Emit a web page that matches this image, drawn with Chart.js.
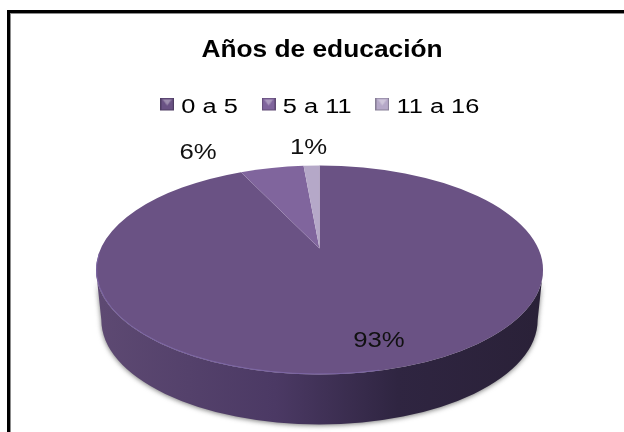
<!DOCTYPE html>
<html><head><meta charset="utf-8">
<style>html,body{margin:0;padding:0;background:#fff}canvas{display:block}</style>
<script src="https://cdn.jsdelivr.net/npm/chart.js@4"></script>
</head><body>
<canvas id="c" width="624" height="432"></canvas>
<script>
const categories = ['0 a 5', '5 a 11', '11 a 16'];
const shares = [93, 5.6, 1.4];
const sliceColors = ['#6a5284', '#80659d', '#b5a8c8'];
const chartTitle = 'Años de educación';

function legendMarker(color) {
  const m = document.createElement('canvas');
  m.width = 11; m.height = 20;
  const g = m.getContext('2d');
  g.fillStyle = color; g.fillRect(0, 0, 11, 13);
  g.fillStyle = 'rgba(255,255,255,0.35)';
  g.beginPath(); g.moveTo(2, 2); g.lineTo(9, 2); g.lineTo(5.5, 8); g.closePath(); g.fill();
  g.strokeStyle = 'rgba(0,0,0,0.25)'; g.strokeRect(0.5, 0.5, 10, 12);
  return m;
}

const framePlugin = {
  id: 'frame',
  beforeDraw(chart) {
    const c = chart.ctx, W = chart.width, H = chart.height;
    c.save();
    c.fillStyle = '#000'; c.fillRect(7, 10, W - 7, 3); c.fillRect(7, 10, 3, H - 10);
    c.fillStyle = '#8c8c8c'; c.fillRect(10, 13, W - 10, 1); c.fillRect(10, 13, 1, H - 13);
    c.restore();
  }
};

// the reference text is stretched sideways, so title and legend are drawn under a horizontal scale
const stretchPlugin = {
  id: 'stretchText',
  beforeDraw(chart) {
    if (chart.$wrapped) return;
    chart.$wrapped = true;
    const wrap = (box, target, s) => {
      const d = box.draw.bind(box);
      box.draw = (...a) => {
        const c = chart.ctx, mid = box.left + box.width / 2;
        c.save();
        c.translate(target, 0); c.scale(s, 1); c.translate(-mid, 0);
        d(...a);
        c.restore();
      };
    };
    wrap(chart.titleBlock, 322, 1.096);
    wrap(chart.legend, 322.5, 1.27);
  }
};

const tiltedPie = {
  id: 'tiltedPie',
  beforeDatasetDraw(chart, args, o) {
    const c = chart.ctx, arcs = args.meta.data;
    const cx = arcs[0].x, cy = arcs[0].y, ry = arcs[0].outerRadius;
    const rx = ry * o.stretch, k = o.apexShift, d = o.depth, rx2 = rx * o.baseShrink;
    const project = a => {
      const t = a + Math.PI / 2, x = Math.sin(t), y = -Math.cos(t);
      const q = 1 + k * y;
      return Math.atan2((y + k) / q, x * Math.sqrt(1 - k * k) / q);
    };
    c.save();
    const g = c.createLinearGradient(cx - rx2, 0, cx + rx2, 0);
    g.addColorStop(0, '#5d4972'); g.addColorStop(0.4, '#4b3964');
    g.addColorStop(0.68, '#2f2541'); g.addColorStop(1, '#2a2138');
    c.save();
    c.shadowColor = 'rgba(90,90,90,0.8)'; c.shadowBlur = 5; c.shadowOffsetY = 1;
    c.beginPath();
    c.moveTo(cx - rx, cy);
    c.lineTo(cx - rx2, cy + d);
    c.ellipse(cx, cy + d, rx2, ry, 0, Math.PI, 0, true);
    c.lineTo(cx + rx, cy);
    c.ellipse(cx, cy, rx, ry, 0, 0, Math.PI, false);
    c.closePath();
    c.fillStyle = g; c.fill();
    c.restore();
    arcs.forEach((arc, i) => {
      c.beginPath();
      c.moveTo(cx, cy + k * ry);
      c.ellipse(cx, cy, rx, ry, 0, project(arc.startAngle), project(arc.endAngle), false);
      c.closePath();
      c.fillStyle = sliceColors[i];
      c.fill();
    });
    c.beginPath();
    c.ellipse(cx, cy, rx - 0.5, ry - 0.5, 0, 1.3, 3.3, false);
    c.strokeStyle = '#7c66a4'; c.lineWidth = 1; c.stroke();
    c.restore();
    return false;
  },
  afterDatasetsDraw(chart, args, o) {
    const c = chart.ctx, arc = chart.getDatasetMeta(0).data[0];
    shares.forEach((v, i) => {
      c.save();
      c.translate(arc.x + o.labelOffsets[i][0], arc.y + o.labelOffsets[i][1]);
      c.scale(1.17, 1);
      c.font = '22px "Liberation Sans"';
      c.fillStyle = '#111';
      c.textAlign = 'center'; c.textBaseline = 'middle';
      c.fillText(Math.round(v) + '%', 0, 1);
      c.restore();
    });
  }
};

new Chart(document.getElementById('c'), {
  type: 'pie',
  data: {
    labels: categories,
    datasets: [{ data: shares, backgroundColor: sliceColors, borderWidth: 0, radius: 104.5 }]
  },
  plugins: [framePlugin, stretchPlugin, tiltedPie],
  options: {
    responsive: false,
    animation: false,
    layout: { padding: { bottom: 19.5, left: 15, right: 0, top: 0 } },
    plugins: {
      tooltip: { enabled: false },
      tiltedPie: { stretch: 2.139, apexShift: -0.206, depth: 50, baseShrink: 0.976,
                   labelOffsets: [[59.5, 69.5], [-121.5, -118.5], [-11, -123.5]] },
      title: {
        display: true, text: chartTitle, color: '#000',
        font: { family: '"Liberation Sans"', size: 24, weight: 'bold' },
        padding: { top: 35.6, bottom: 10.1 }
      },
      legend: {
        position: 'top',
        labels: {
          color: '#222',
          font: { family: '"Liberation Sans"', size: 20 },
          padding: 23,
          usePointStyle: true,
          pointStyleWidth: 2.4,
          generateLabels: () => categories.map((t, i) => ({
            text: t, pointStyle: legendMarker(sliceColors[i]), fillStyle: sliceColors[i],
            lineWidth: 0, hidden: false, datasetIndex: 0, index: i
          }))
        }
      }
    }
  }
});
</script>
</body></html>
